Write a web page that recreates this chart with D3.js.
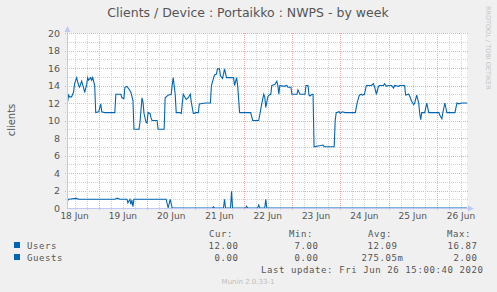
<!DOCTYPE html>
<html>
<head>
<meta charset="utf-8">
<script src="https://cdn.jsdelivr.net/npm/d3@7"></script>
<style>
body { margin: 0; background: #f0f0f0; }
svg { display: block; }
</style>
</head>
<body>
<svg id="chart" width="497" height="292"></svg>
<script>
// hours counted from 18 Jun 2020 00:00
var usersHours = [8.5,9,9.5,10.5,11.5,12,13,14,14.5,15.5,16.5,17,18,18.5,19,20,20.5,21,22,22.5,24,25,25.5,27,32,32.5,35,35.5,36.5,37,38,39,40,41,41.5,44,44.5,45.5,46,46.5,47.5,48,48.5,49.5,50,50.5,53,53.5,56.5,57,58.5,60,60.5,61,62,62.5,64.5,65,66,67,67.5,68.5,69.5,70,71,71.5,72,73.5,74,77,79.5,80,81.5,82.5,83,84,84.5,85.5,86,86.5,87.5,90,91,91.5,92.5,93,94,99.5,100.5,103.5,105,106,106.5,107,108,108.5,109.5,110,111.5,112.5,113,113.5,114,116,117.5,118,119.5,120,122.5,123,124,126.5,127,128,128.5,129,130,130.5,131,135.5,136,141,141.5,142,143.5,144,145,146.5,151.5,152.5,153.5,154.5,155,156,157,159.5,160.5,161,162,163,163.5,165.5,166,167,168,169.5,170.5,171,173,173.5,176,176.5,178,178.5,179.5,180.5,181,182,183,183.5,184,184.5,186,187,188,193,193.5,194.5,195,196,197,201,202,203,204.5,206,207];
var usersValues = [12.1,12.9,12.7,12.7,13.25,14.2,14.9,14.0,13.8,14.5,13.7,13.2,14.1,14.9,14.6,14.9,14.6,14.9,14.0,10.9,11.0,11.9,11.0,10.9,10.9,13.0,13.0,12.6,12.5,13.8,13.9,13.6,13.2,12.3,9.0,9.0,9.8,12.6,12.1,10.8,9.8,9.7,10.9,10.8,10.3,10.0,10.0,9.0,9.0,12.6,12.9,13.0,14.0,14.9,13.0,10.9,10.9,10.8,13.0,12.6,12.4,12.6,13.0,12.1,10.8,10.8,10.9,10.9,11.9,12.0,12.0,14.0,15.2,15.3,15.9,15.9,15.1,14.8,15.3,15.9,14.9,14.9,14.9,14.0,14.9,14.1,10.9,10.9,10.0,10.0,11.9,13.0,12.7,11.5,12.7,12.9,13.0,14.0,14.1,14.5,14.0,13.0,14.0,13.9,14.0,13.8,13.8,13.0,13.0,13.5,13.0,13.0,14.0,14.0,12.9,12.8,13.0,13.0,7.0,7.2,7.0,7.0,10.0,10.9,11.0,10.8,11.0,10.9,10.9,12.1,12.9,13.0,12.9,13.0,14.0,14.0,14.2,13.9,13.0,13.9,14.0,14.0,14.2,13.9,14.0,14.0,13.7,14.0,13.9,14.0,14.0,12.9,13.0,12.8,12.2,11.8,12.0,12.9,12.0,10.8,10.1,10.9,10.9,12.0,10.9,10.9,10.6,10.2,10.9,12.0,10.9,10.9,12.0,11.9,12.0,12.0,12.0];

var guestsHours = [8.5,9,13,14,32,33,33.5,34.5,38,38.5,39.5,40,40.5,41,41.5,57.5,58.5,59.5,60.5,80.5,81,81.5,86,86.5,87,89.5,90,90.5,97,97.5,98,103,103.5,104,106.5,107,107.5,207];
var guestsValues = [0.8,1,1.1,1,1,1.1,1.1,1,1,0.6,1,0.4,0.9,0.15,1,1,0,1,0,0,0.15,0,0,1,0,0,1.9,0,0,0.2,0,0,0.35,0,0,1,0,0];

var yTicks = [0,2,4,6,8,10,12,14,16,18,20];
var legendNames = ['Users', 'Guests'];
var legendCur = ['12.00', '0.00'];
var legendMin = ['7.00', '0.00'];
var legendAvg = [['12.09', ''], ['275.05', 'm']];
var legendMax = ['16.87', '2.00'];

var plot = {left: 67, right: 467, top: 33, bottom: 208},
    lineColor = '#0066b3',
    axisColor = '#c0c8f4',
    textColor = '#555',
    minorGrid = '#d2d2d2',
    majorGrid = '#f4aaaa',
    sans = 'DejaVu Sans',
    mono = 'DejaVu Sans Mono';

var base = Date.UTC(2020, 5, 18);
function hourDate(h) { return new Date(base + h * 3600000); }

var x = d3.scaleUtc()
    .domain([hourDate(8.23), hourDate(207)])
    .range([plot.left, plot.right]);

var y = d3.scaleLinear()
    .domain([0, 20])
    .range([plot.bottom, plot.top]);

var svg = d3.select('#chart');

svg.append('rect')
    .attr('width', 497).attr('height', 292)
    .attr('fill', '#f0f0f0');

svg.append('rect')
    .attr('x', plot.left).attr('y', plot.top)
    .attr('width', plot.right - plot.left)
    .attr('height', plot.bottom - plot.top)
    .attr('fill', '#fff');

// grid
var grid = svg.append('g').attr('shape-rendering', 'crispEdges');

d3.range(1, 21).forEach(function(v) {
    grid.append('line')
        .attr('x1', plot.left - 2).attr('x2', plot.right + 1)
        .attr('y1', Math.round(y(v)) + 0.5).attr('y2', Math.round(y(v)) + 0.5)
        .attr('stroke', v % 2 == 0 ? majorGrid : minorGrid)
        .attr('stroke-dasharray', '1,1');
});

d3.utcHour.every(6).range(x.domain()[0], x.domain()[1]).forEach(function(t) {
    var px = Math.round(x(t)) + 0.5;
    grid.append('line')
        .attr('x1', px).attr('x2', px)
        .attr('y1', plot.top).attr('y2', plot.bottom + 2)
        .attr('stroke', t.getUTCHours() == 0 ? majorGrid : minorGrid)
        .attr('stroke-dasharray', '1,1');
});

// series
var line = d3.line()
    .x(function(d) { return x(hourDate(d[0])); })
    .y(function(d) { return y(d[1]); });

svg.append('path')
    .datum(d3.zip(guestsHours, guestsValues))
    .attr('d', line)
    .attr('fill', 'none')
    .attr('stroke', lineColor)
    .attr('stroke-width', 1.1);

svg.append('path')
    .datum(d3.zip(usersHours, usersValues))
    .attr('d', line)
    .attr('fill', 'none')
    .attr('stroke', lineColor)
    .attr('stroke-width', 1.1);

// axes
svg.append('line')
    .attr('x1', plot.left + 0.5).attr('x2', plot.left + 0.5)
    .attr('y1', plot.top - 2).attr('y2', plot.bottom)
    .attr('stroke', axisColor);
svg.append('line')
    .attr('x1', plot.left).attr('x2', plot.right + 2)
    .attr('y1', plot.bottom + 0.5).attr('y2', plot.bottom + 0.5)
    .attr('stroke', axisColor);
svg.append('path')
    .attr('d', `M${plot.left - 2.5},${plot.top - 1}L${plot.left + 0.5},${plot.top - 7}L${plot.left + 3.5},${plot.top - 1}Z`)
    .attr('fill', axisColor);
svg.append('path')
    .attr('d', `M${plot.right + 1},${plot.bottom - 2.5}L${plot.right + 7},${plot.bottom + 0.5}L${plot.right + 1},${plot.bottom + 3.5}Z`)
    .attr('fill', axisColor);

svg.append('g')
    .selectAll('text')
    .data(yTicks)
    .join('text')
    .attr('x', 60)
    .attr('y', function(d) { return y(d) + 3.5; })
    .attr('text-anchor', 'end')
    .attr('font-family', sans).attr('font-size', 9.5)
    .attr('fill', textColor)
    .text(function(d) { return d; });

var fmtDay = d3.utcFormat('%-d %b');
svg.append('g')
    .selectAll('text')
    .data(d3.utcDay.range(hourDate(0), hourDate(207)))
    .join('text')
    .attr('x', function(d) { return x(d3.utcHour.offset(d, 12)); })
    .attr('y', 219)
    .attr('text-anchor', 'middle')
    .attr('font-family', sans).attr('font-size', 9)
    .attr('fill', textColor)
    .text(fmtDay);

// titles
svg.append('text')
    .attr('x', 248).attr('y', 16.5)
    .attr('text-anchor', 'middle')
    .attr('font-family', sans).attr('font-size', 12.5)
    .attr('fill', textColor)
    .text('Clients / Device : Portaikko : NWPS - by week');

svg.append('text')
    .attr('transform', 'translate(14.5,120) rotate(-90)')
    .attr('text-anchor', 'middle')
    .attr('font-family', sans).attr('font-size', 10)
    .attr('fill', textColor)
    .text('clients');

svg.append('text')
    .attr('transform', 'translate(486,6) rotate(90)')
    .attr('font-family', sans).attr('font-size', 6.5)
    .attr('fill', '#c4c4c4')
    .text('RRDTOOL / TOBI OETIKER');

// legend
var legend = svg.append('g')
    .attr('font-family', mono).attr('font-size', 9)
    .attr('letter-spacing', 0.6)
    .attr('fill', textColor)
    .style('white-space', 'pre');

[['Cur:', 209], ['Min:', 289], ['Avg:', 368], ['Max:', 447]].forEach(function(h) {
    legend.append('text').attr('x', h[1]).attr('y', 237).text(h[0]);
});

legendNames.forEach(function(name, i) {
    var by = 249 + i * 12;
    legend.append('rect')
        .attr('x', 14).attr('y', by - 7)
        .attr('width', 6).attr('height', 6)
        .attr('fill', lineColor);
    legend.append('text').attr('x', 27).attr('y', by).text(name);
    legend.append('text').attr('x', 238.6).attr('y', by).attr('text-anchor', 'end').text(legendCur[i]);
    legend.append('text').attr('x', 318.6).attr('y', by).attr('text-anchor', 'end').text(legendMin[i]);
    legend.append('text').attr('x', 397.6).attr('y', by).attr('text-anchor', 'end').text(legendAvg[i][0]);
    legend.append('text').attr('x', 397.6).attr('y', by).text(legendAvg[i][1]);
    legend.append('text').attr('x', 477.6).attr('y', by).attr('text-anchor', 'end').text(legendMax[i]);
});

legend.append('text')
    .attr('x', 483.6).attr('y', 273)
    .attr('text-anchor', 'end')
    .text('Last update: Fri Jun 26 15:00:40 2020');

svg.append('text')
    .attr('x', 248).attr('y', 284)
    .attr('text-anchor', 'middle')
    .attr('font-family', sans).attr('font-size', 7)
    .attr('fill', '#bdbdbd')
    .text('Munin 2.0.33-1');
</script>
</body>
</html>
